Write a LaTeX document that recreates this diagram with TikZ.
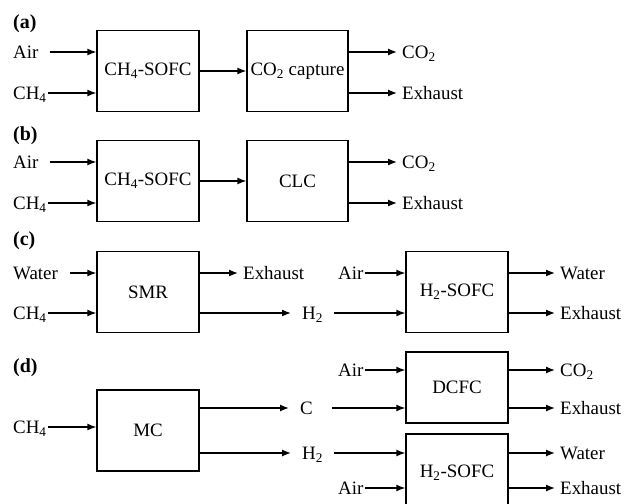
\documentclass[tikz,border=0pt]{standalone}
\usepackage{fontspec}
\setmainfont{Liberation Serif}
\usetikzlibrary{arrows.meta}
\tikzstyle{unit} = [rectangle, draw=black, line width=1.3bp, minimum width=102bp, minimum height=81bp,
inner sep=0pt, align=center]
\tikzstyle{feed} = [anchor=west, inner sep=1bp, text height=12.6bp, text depth=0bp]
\tikzstyle{product} = [anchor=west, inner ysep=1bp, inner xsep=5bp, text height=12.6bp, text depth=0bp]
\tikzstyle{mid} = [anchor=west, inner ysep=1bp, inner xsep=11bp, text height=12.6bp, text depth=0bp]
\tikzstyle{tag} = [anchor=west, inner sep=1bp, font=\fontsize{20}{24}\selectfont\bfseries]
\tikzstyle{arrow} = [line width=1.3bp,-{Latex[length=9bp,width=7bp]}]

\begin{document}
\begin{tikzpicture}[x=1bp,y=-1bp,font=\fontsize{19}{22}\selectfont]
\useasboundingbox (0,0) rectangle (626,504);
% (a) CH4-SOFC with CO2 capture
\node[tag] (tagA) at (12,24) {(a)};
\node[unit] (sofcA) at (148,71) {CH\textsubscript{4}-SOFC};
\node[unit, minimum width=101bp] (capA) at (297.5,71) {CO\textsubscript{2} capture};
\node[feed] (airA) at (12,52) {Air};
\node[feed] (chA) at (12,93) {CH\textsubscript{4}};
\node[product] (coA) at (397,52) {CO\textsubscript{2}};
\node[product] (exA) at (397,93) {Exhaust};
\draw[arrow] ([xshift=10bp]airA.east) -- (airA -| sofcA.west);
\draw[arrow] (chA.east) -- (chA -| sofcA.west);
\draw[arrow] (sofcA) -- (capA);
\draw[arrow] (coA -| capA.east) -- (coA.west);
\draw[arrow] (exA -| capA.east) -- (exA.west);
% (b) CH4-SOFC with CLC
\node[tag] (tagB) at (12,136) {(b)};
\node[unit] (sofcB) at (148,181) {CH\textsubscript{4}-SOFC};
\node[unit, minimum width=101bp] (clcB) at (297.5,181) {CLC};
\node[feed] (airB) at (12,162) {Air};
\node[feed] (chB) at (12,203) {CH\textsubscript{4}};
\node[product] (coB) at (397,162) {CO\textsubscript{2}};
\node[product] (exB) at (397,203) {Exhaust};
\draw[arrow] ([xshift=10bp]airB.east) -- (airB -| sofcB.west);
\draw[arrow] (chB.east) -- (chB -| sofcB.west);
\draw[arrow] (sofcB) -- (clcB);
\draw[arrow] (coB -| clcB.east) -- (coB.west);
\draw[arrow] (exB -| clcB.east) -- (exB.west);
% (c) SMR + H2-SOFC
\node[tag] (tagC) at (12,241) {(c)};
\node[unit] (smrC) at (148,292) {SMR};
\node[unit] (sofcC) at (457,292) {H\textsubscript{2}-SOFC};
\node[feed] (waterC) at (12,273) {Water};
\node[feed] (chC) at (12,313) {CH\textsubscript{4}};
\node[product] (exC) at (238,273) {Exhaust};
\node[mid] (hC) at (291,313) {H\textsubscript{2}};
\node[feed] (airC) at (337,273) {Air};
\node[product] (waterC2) at (555,273) {Water};
\node[product] (exC2) at (555,313) {Exhaust};
\draw[arrow] ([xshift=11bp]waterC.east) -- (waterC -| smrC.west);
\draw[arrow] (chC.east) -- (chC -| smrC.west);
\draw[arrow] (exC -| smrC.east) -- (exC.west);
\draw[arrow] (hC -| smrC.east) -- (hC.west);
\draw[arrow] (airC.east) -- (airC -| sofcC.west);
\draw[arrow] (hC.east) -- (hC -| sofcC.west);
\draw[arrow] (waterC2 -| sofcC.east) -- (waterC2.west);
\draw[arrow] (exC2 -| sofcC.east) -- (exC2.west);
% (d) MC + DCFC + H2-SOFC
\node[tag] (tagD) at (12,368) {(d)};
\node[unit] (mcD) at (148,430.5) {MC};
\node[unit, minimum height=71bp] (dcfcD) at (457,387.5) {DCFC};
\node[unit, minimum height=78bp] (sofcD) at (457,473) {H\textsubscript{2}-SOFC};
\node[feed] (chD) at (12,427) {CH\textsubscript{4}};
\node[mid] (cD) at (289,408) {C};
\node[mid] (hD) at (291,453) {H\textsubscript{2}};
\node[feed] (airD) at (337,370) {Air};
\node[feed] (airD2) at (337,488) {Air};
\node[product] (coD) at (555,370) {CO\textsubscript{2}};
\node[product] (exD) at (555,408) {Exhaust};
\node[product] (waterD) at (555,453) {Water};
\node[product] (exD2) at (555,488) {Exhaust};
\draw[arrow] (chD.east) -- (chD -| mcD.west);
\draw[arrow] (cD -| mcD.east) -- (cD.west);
\draw[arrow] (hD -| mcD.east) -- (hD.west);
\draw[arrow] (airD.east) -- (airD -| dcfcD.west);
\draw[arrow] ([xshift=8bp]cD.east) -- (cD -| dcfcD.west);
\draw[arrow] (hD.east) -- (hD -| sofcD.west);
\draw[arrow] (airD2.east) -- (airD2 -| sofcD.west);
\draw[arrow] (coD -| dcfcD.east) -- (coD.west);
\draw[arrow] (exD -| dcfcD.east) -- (exD.west);
\draw[arrow] (waterD -| sofcD.east) -- (waterD.west);
\draw[arrow] (exD2 -| sofcD.east) -- (exD2.west);
\end{tikzpicture}
\end{document}
